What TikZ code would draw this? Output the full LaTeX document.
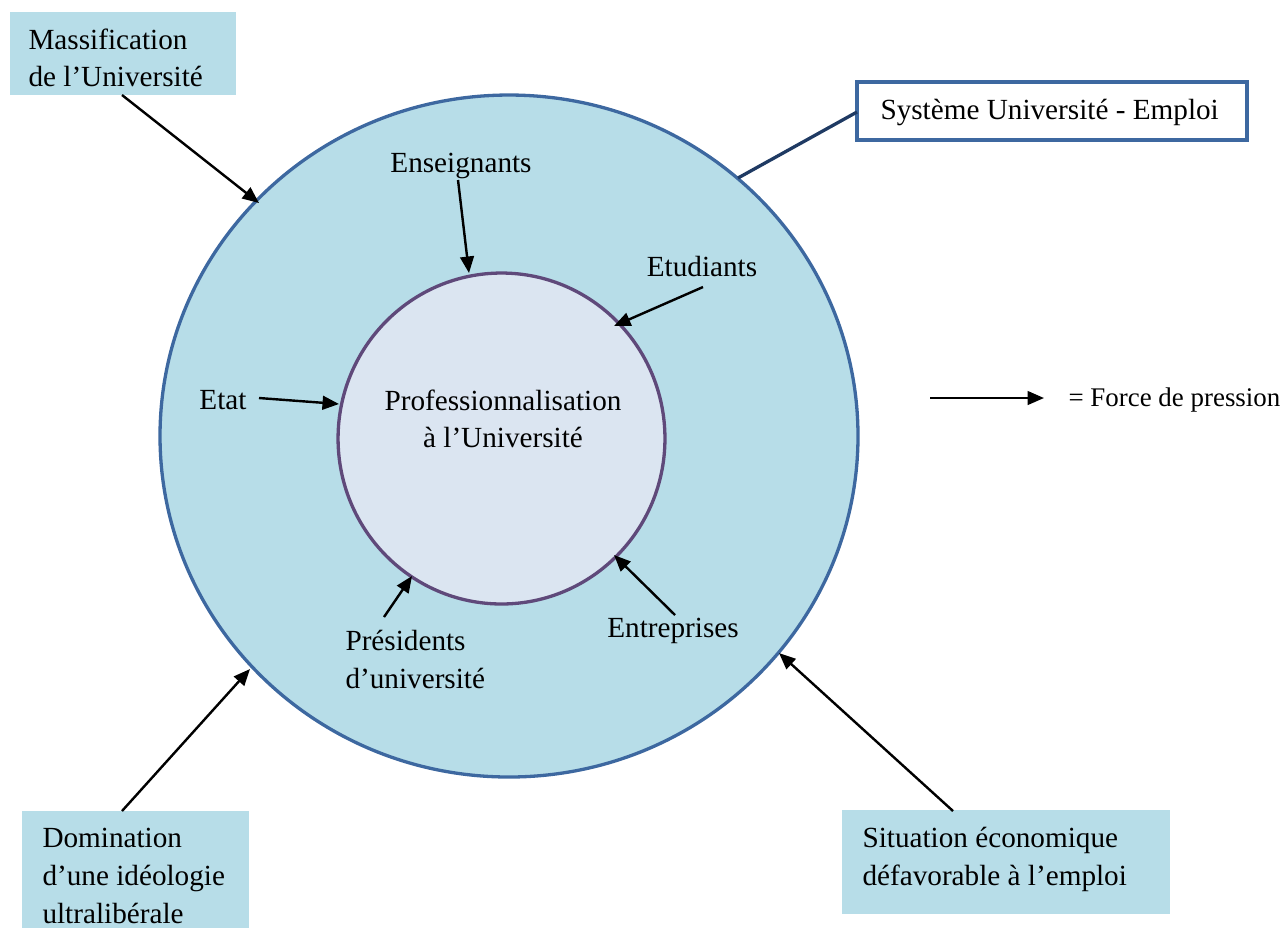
\documentclass[tikz,border=0pt]{standalone}
\usepackage{fontspec}
\setmainfont{Liberation Serif}
\usetikzlibrary{arrows.meta,shapes.geometric,fit}
\definecolor{aqua}{HTML}{B7DDE8}
\definecolor{blueline}{HTML}{3D68A0}
\definecolor{innerfill}{HTML}{DBE5F1}
\definecolor{purpleline}{HTML}{5F497A}
\definecolor{darkblue}{HTML}{1F3A63}
\begin{document}
\begin{tikzpicture}[x=0.3937pt,y=-0.3937pt,
  lbl/.style={inner sep=0pt,font=\fontsize{11.5}{14.8}\selectfont,text=black},
  aquabox/.style={fill=aqua,draw=none,inner sep=0pt},
  force/.style={line width=0.95pt,-{Triangle[length=6.5pt,width=5.4pt]}},
  ]
\useasboundingbox (0,0) rectangle (1281,928);
% circles
\node[ellipse,fill=aqua,draw=blueline,line width=1.3pt,inner sep=0pt,
  minimum width=274.8pt,minimum height=268.5pt] (outer) at (509,436) {};
\node[ellipse,fill=innerfill,draw=purpleline,line width=1.3pt,inner sep=0pt,
  minimum width=128.7pt,minimum height=130.3pt] (inner) at (501.5,438.5) {};
% boxes
\node[aquabox,fit={(10,12)(236,95)}] (mbox) {};
\node[aquabox,fit={(22,811)(249,928)}] (dbox) {};
\node[aquabox,fit={(842,810)(1170,914)}] (sbox) {};
\node[draw=blueline,fill=white,line width=1.3pt,inner sep=0pt,fit={(857,82)(1247,140)}] (sysbox) {};
% box texts
\node[lbl,anchor=north west,align=left] (mtxt) at (28,28) {Massification\\de l’Université};
\node[lbl,anchor=north west,align=left] (dtxt) at (42,828) {Domination\\d’une idéologie\\ultralibérale};
\node[lbl,anchor=north west,align=left] (stxt) at (862,827) {Situation économique\\défavorable à l’emploi};
\node[lbl,anchor=west] (systxt) at (880,112) {Système Université - Emploi};
% inner labels
\node[lbl] (ens) at (461,166) {Enseignants};
\node[lbl] (etu) at (702,266) {Etudiants};
\node[lbl] (etat) at (223,400) {Etat};
\node[lbl,align=center] (prof) at (503,419) {Professionnalisation\\à l’Université};
\node[lbl,anchor=north west,align=left] (pres) at (345,630) {Présidents\\d’université};
\node[lbl] (ent) at (673,631) {Entreprises};
\node[lbl,anchor=west,font=\fontsize{10.6}{13}\selectfont] (legtxt) at (1068,400) {= Force de pression};
% connector end points
\coordinate (m1) at (122,95);   \coordinate (m2) at (259,203);
\coordinate (d1) at (122,811);  \coordinate (d2) at (250,669);
\coordinate (s1) at (953,811);  \coordinate (s2) at (779,653);
\coordinate (e1) at (458,180);  \coordinate (e2) at (469,273);
\coordinate (u1) at (703,287);  \coordinate (u2) at (614,326);
\coordinate (t1) at (259,398);  \coordinate (t2) at (339,404);
\coordinate (p1) at (384,617);  \coordinate (p2) at (412,576);
\coordinate (n1) at (675,615);  \coordinate (n2) at (614,555);
\coordinate (l1) at (930,398);  \coordinate (l2) at (1044,398);
\coordinate (y1) at (738,178);  \coordinate (y2) at (857,112);
% connectors
\draw[force] (m1) -- (m2);
\draw[force] (d1) -- (d2);
\draw[force] (s1) -- (s2);
\draw[force] (e1) -- (e2);
\draw[force] (u1) -- (u2);
\draw[force] (t1) -- (t2);
\draw[force] (p1) -- (p2);
\draw[force] (n1) -- (n2);
\draw[force] (l1) -- (l2);
\draw[darkblue,line width=1.3pt] (y1) -- (y2);
\end{tikzpicture}
\end{document}
